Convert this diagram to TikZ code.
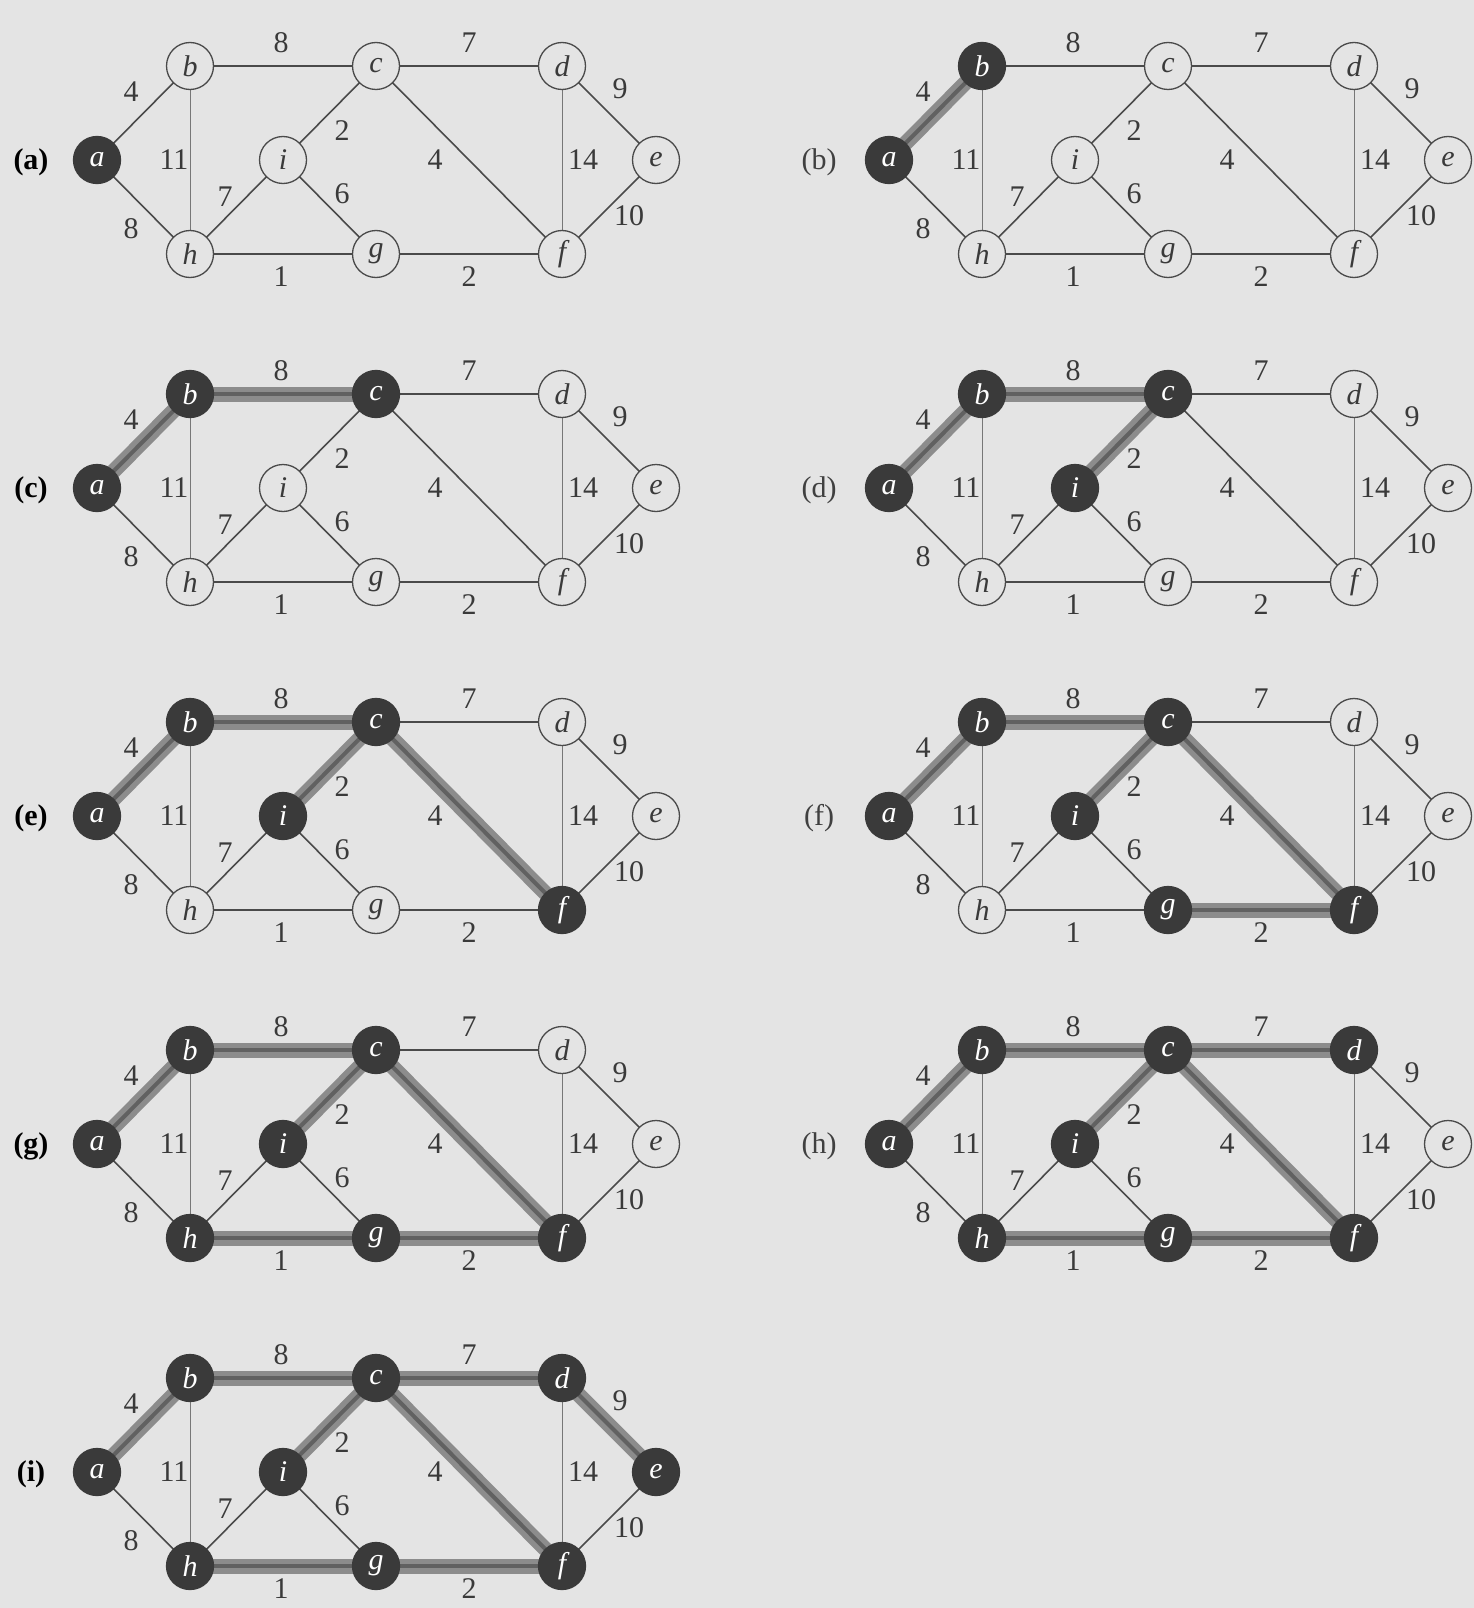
\documentclass[tikz,border=0pt]{standalone}
\usepackage{fontspec}
\setmainfont{Liberation Serif}
\definecolor{bgc}{HTML}{E4E4E4}
\definecolor{edgec}{HTML}{4A4A4A}
\definecolor{bandc}{HTML}{8C8C8C}
\definecolor{darkc}{HTML}{3A3A3A}
\definecolor{txtc}{HTML}{3A3A3A}
\pgfdeclarelayer{bglayer}
\pgfdeclarelayer{edgelayer}
\pgfsetlayers{bglayer,edgelayer,main}
\tikzset{
  vtx/.style={circle, minimum size=47pt, inner sep=0pt, draw=edgec, fill=bgc, line width=1.3pt,
    font=\fontsize{30}{30}\selectfont\itshape, text=txtc},
  intree/.style={fill=darkc, draw=darkc, text=white},
  edg/.style={draw=edgec, line width=1.6pt},
  faint/.style={draw=edgec!75, line width=1pt},
  bandline/.style={draw=bandc, line width=15pt},
  bandcore/.style={draw=black!62, line width=4pt},
  wt/.style={font=\fontsize{30}{30}\selectfont, text=txtc, inner sep=0pt},
  plabL/.style={font=\fontsize{30}{30}\selectfont\bfseries, text=black, inner sep=0pt},
  plabR/.style={font=\fontsize{30}{30}\selectfont, text=black!75, inner sep=0pt},
}
\begin{document}
\begin{tikzpicture}[x=1pt,y=-1pt]
\useasboundingbox (0,0) rectangle (1474,1608);
\begin{pgfonlayer}{bglayer}
\fill[bgc] (0,0) rectangle (1474,1608);
\end{pgfonlayer}
\foreach \k/\lab/\col/\row in {1/a/0/0, 2/b/1/0, 3/c/0/1, 4/d/1/1, 5/e/0/2, 6/f/1/2, 7/g/0/3, 8/h/1/3, 9/i/0/4} {
  \begin{scope}[shift={(792*\col,328*\row)}]
    \ifnum\col=0\relax
      \node[plabL] (p\k lab) at (31,162) {(\lab)};
    \else
      \node[plabR] (p\k lab) at (27,162) {(\lab)};
    \fi
    \foreach \v/\r/\x/\y in {a/1/97/160, b/2/190/66, c/3/376/66, i/4/283/160, f/5/562/254, g/6/376/254, h/7/190/254, d/8/562/66, e/9/656/160}{
      \ifnum\r>\k\relax
        \node[vtx] (p\k\v) at (\x,\y) {\v};
      \else
        \node[vtx,intree] (p\k\v) at (\x,\y) {\v};
      \fi
    }
    \begin{pgfonlayer}{edgelayer}
      \foreach \u/\w/\r/\s in {a/b/2/edg, b/c/3/edg, c/i/4/edg, c/f/5/edg, f/g/6/edg, g/h/7/edg, c/d/8/edg, d/e/9/edg, a/h/99/edg, b/h/99/faint, h/i/99/edg, i/g/99/edg, d/f/99/faint, e/f/99/edg}{
        \ifnum\r>\k\relax
          \draw[\s] (p\k\u.center) -- (p\k\w.center);
        \else
          \draw[bandline] (p\k\u.center) -- (p\k\w.center);
          \draw[bandcore] (p\k\u.center) -- (p\k\w.center);
        \fi
      }
    \end{pgfonlayer}
    \foreach \n/\t/\x/\y in {ab/4/131/92, bc/8/281/43, cd/7/469/43, de/9/620/89, ci/2/342/131, bh/11/174/160, cf/4/435/160, df/14/583/160, hi/7/225/197, ig/6/342/194, ef/10/629/216, ah/8/131/229, hg/1/281/277, gf/2/469/277}{
      \node[wt] (p\k w\n) at (\x,\y) {\t};
    }
  \end{scope}
}
\end{tikzpicture}
\end{document}
